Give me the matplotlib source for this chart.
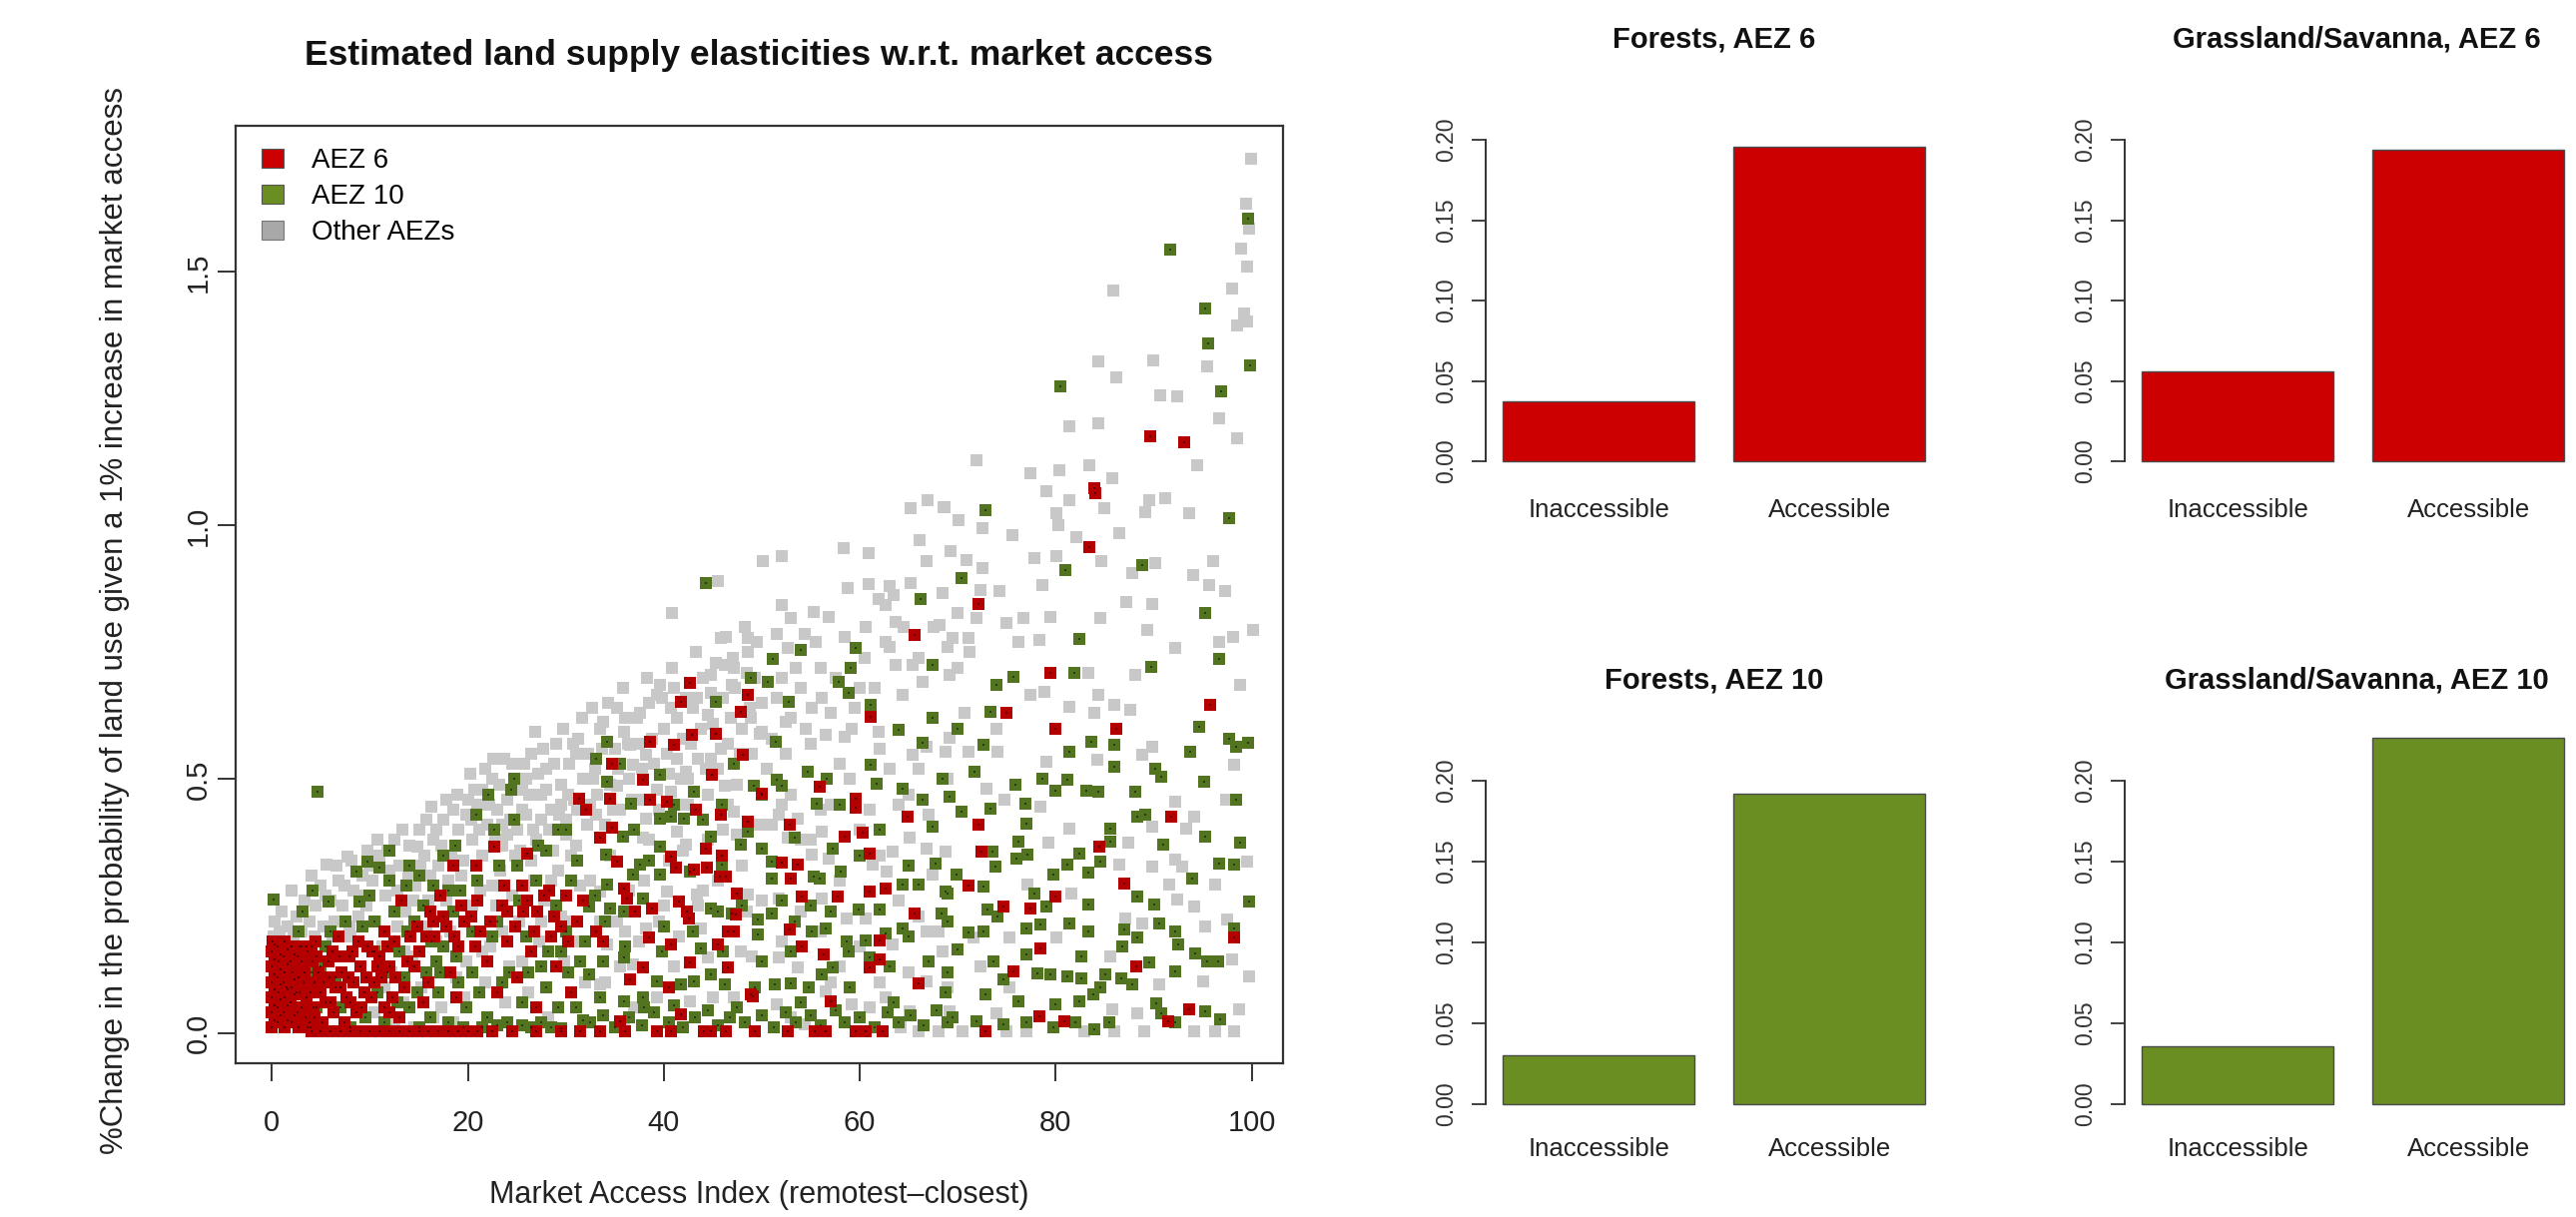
import matplotlib
matplotlib.use("Agg")
import matplotlib.pyplot as plt
from matplotlib.patches import Patch

plt.rcParams['font.family'] = ['Liberation Sans', 'DejaVu Sans']

# ---------------- data ----------------
title_main = "Estimated land supply elasticities w.r.t. market access"
xlabel_main = "Market Access Index (remotest\u2013closest)"
ylabel_main = "%Change in the probability of land use given a 1% increase in market access"
legend_labels = ["AEZ 6", "AEZ 10", "Other AEZs"]
x_ticks = [0, 20, 40, 60, 80, 100]
y_ticks = [0.0, 0.5, 1.0, 1.5]
y_ticklabels = ["0.0", "0.5", "1.0", "1.5"]

# Other AEZs (gray)
other_pts = [
    (0.2,0.19),(0.3,0.22),(0.8,0.20),(1.0,0.24),(1.6,0.21),(2.2,0.19),(2.5,0.23),(3.0,0.20),(3.3,0.26),(3.8,0.22),
    (4.3,0.19),(4.5,0.25),(5.0,0.29),(5.3,0.21),(5.6,0.331),(6.0,0.26),(6.4,0.22),(6.8,0.30),(7.2,0.25),(7.7,0.348),
    (7.9,0.21),(8.3,0.28),(8.8,0.23),(9.2,0.31),(9.8,0.36),(9.6,0.25),(6.2,0.19),(8.0,0.19),(2.0,0.28),(4.0,0.31),
    (10.3,0.30),(10.6,0.22),(11,0.35),(11.3,0.17),(11.6,0.27),(12,0.32),(12.2,0.12),(12.5,0.38),(12.8,0.21),(13,0.33),
    (13.4,0.06),(13.6,0.24),(14,0.37),(14.3,0.15),(14.6,0.29),(14.8,0.367),(15,0.40),(15.3,0.09),(15.6,0.35),(16,0.26),
    (16.3,0.445),(16.5,0.38),(16.8,0.18),(17,0.33),(17.3,0.05),(17.5,0.42),(18,0.30),(18.2,0.20),(18.5,0.44),(18.8,0.11),
    (19,0.40),(19.3,0.25),(19.5,0.34),(19.8,0.14),(20,0.46),(10.5,0.04),(12.5,0.02),(14.5,0.01),(16.5,0.03),(18.5,0.02),
    (11.5,0.09),(13.5,0.16),(15.8,0.21),(17.8,0.26),(19.6,0.07),
    (5.5,0.27),(6.6,0.33),(7.4,0.29),(8.1,0.34),(9.0,0.27),(10.0,0.33),(10.8,0.38),(11.8,0.36),(12.8,0.28),(13.3,0.40),
    (13.9,0.31),(14.4,0.26),(15.2,0.33),(15.8,0.42),(16.2,0.31),(16.8,0.40),(17.3,0.37),(17.8,0.46),(18.3,0.35),(18.9,0.47),
    (19.3,0.31),(19.8,0.43),
    (20.2,0.51),(20.5,0.38),(20.8,0.20),(21,0.45),(21.3,0.28),(21.5,0.35),(21.8,0.10),(22,0.41),(22.3,0.17),(22.5,0.50),
    (22.6,0.54),(22.9,0.25),(23,0.44),(23.3,0.32),(23.5,0.37),(23.8,0.06),(24,0.46),(24.2,0.13),(24.5,0.53),(24.8,0.35),
    (25,0.40),(25.2,0.22),(25.5,0.48),(25.8,0.29),(26,0.43),(26.2,0.08),(26.5,0.55),(26.8,0.30),(26.9,0.593),(27,0.38),
    (27.3,0.18),(27.5,0.47),(27.8,0.26),(28,0.52),(28.2,0.03),(28.5,0.44),(28.7,0.36),(29,0.57),(29.2,0.32),(29.5,0.49),
    (29.8,0.14),(30,0.42),(30.3,0.53),(30.5,0.22),(30.8,0.46),(31,0.37),(31.3,0.58),(31.5,0.29),(31.8,0.50),(32,0.10),
    (32.2,0.41),(21.5,0.48),(23.5,0.41),(25.5,0.44),(27.5,0.42),(29.5,0.45),(31,0.55),(28,0.48),(30,0.39),(26,0.50),(24,0.39),
    (20.3,0.42),(20.7,0.48),(21.2,0.40),(21.8,0.52),(22.2,0.45),(22.8,0.38),(23.2,0.49),(23.7,0.54),(24.3,0.42),(24.8,0.49),
    (25.3,0.36),(25.8,0.53),(26.3,0.47),(26.7,0.40),(27.2,0.51),(27.7,0.56),(28.3,0.40),(28.8,0.53),(29.3,0.43),(29.7,0.60),
    (30.2,0.47),(30.7,0.57),(31.2,0.44),(31.7,0.62),(32.3,0.55),(32.7,0.64),(33.2,0.47),(33.7,0.56),(34.3,0.65),(34.8,0.44),
    (35.3,0.52),(35.8,0.68),(36.3,0.57),(36.8,0.46),(37.3,0.62),(37.8,0.52),(38.3,0.70),(38.8,0.58),(39.3,0.48),(39.8,0.66),
    (40.3,0.55),(40.8,0.72),(41.3,0.62),(41.8,0.50),(42.3,0.66),(42.8,0.57),(43.3,0.75),(43.8,0.60),(44.3,0.52),(44.8,0.67),
    (45.3,0.73),(45.8,0.56),(46.3,0.78),(46.8,0.62),(47.3,0.68),(47.8,0.55),(48.3,0.80),(48.8,0.64),(49.3,0.70),(49.8,0.59),
    (20.5,0.25),(21.5,0.16),(22.5,0.29),(23.5,0.20),(24.5,0.27),(25.5,0.14),(26.5,0.34),(27.5,0.22),(28.5,0.30),(29.5,0.23),
    (30.5,0.35),(31.5,0.18),(32.5,0.30),(33.5,0.22),(34.5,0.35),(35.5,0.13),(36.5,0.28),(37.5,0.18),(38.5,0.38),(39.5,0.22),
    (40.5,0.34),(41.5,0.19),(42.5,0.45),(43.5,0.25),(44.5,0.38),(45.5,0.30),(46.5,0.45),(47.5,0.39),(48.5,0.24),(49.5,0.41),
    (40.8,0.827),(52.0,0.843),(53,0.817),(55.3,0.83),(56.8,0.82),(60.6,0.80),(62.6,0.843),(63.7,0.81),(68.1,0.804),(61.9,0.856),
    (45.8,0.778),(48.6,0.778),(51.5,0.787),(54.4,0.787),(48.6,0.751),(52.7,0.758),(46.2,0.725),(47.2,0.719),(44.8,0.705),(39.6,0.686),
    (39.3,0.666),(37.6,0.63),(35.2,0.64),(33.8,0.613),(40.7,0.64),(43.4,0.66),(46.9,0.686),(44.5,0.627),(48.9,0.62),(50,0.594),
    (52.4,0.614),(55.1,0.64),(56.1,0.66),(56.5,0.587),(59.2,0.60),(58.5,0.584),(64.4,0.666),(65.4,0.725),(66.4,0.692),(62.6,0.771),
    (63.7,0.725),(61.9,0.594),(65.4,0.548),(66.8,0.564),(68.8,0.554),(35.9,0.594),(36.6,0.568),(32.8,0.501),(35.2,0.488),(36.9,0.528),
    (38.2,0.548),(41.3,0.541),(42.3,0.515),(44.8,0.541),(46.2,0.488),(40.7,0.475),(33.1,0.43),(38.2,0.423),(37.9,0.384),(41.3,0.397),
    (42.3,0.371),(47.2,0.436),(51.7,0.43),(53.7,0.423),(52.7,0.384),(56.1,0.397),(50.3,0.41),(56.8,0.344),(55.1,0.351),(61.3,0.331),
    (62.7,0.318),(66.8,0.364),(67.4,0.311),(63.4,0.357),(65.1,0.384),(68.8,0.357),(33.5,0.279),(35.2,0.22),(40.3,0.279),(38.2,0.206),
    (43.4,0.272),(43.8,0.206),(48.6,0.272),(51.7,0.265),(56.1,0.265),(58.7,0.226),(60.6,0.226),(63.4,0.174),(66.8,0.20),(68.5,0.161),
    (51.7,0.148),(53.7,0.128),(47.9,0.161),(44.5,0.148),(34.2,0.174),(36.9,0.135),(33.5,0.095),(39.3,0.069),(42.7,0.062),(47.2,0.069),
    (51.5,0.056),(56.5,0.082),(59.2,0.056),(62.6,0.069),(65.1,0.043),(66.8,0.102),(69.2,0.043),(35.9,0.016),(54.4,0.016),(64.2,0.01),
    (32.5,0.45),(33,0.52),(33.5,0.60),(34,0.41),(34.5,0.49),(35,0.56),(35.5,0.44),(36,0.62),(36.5,0.50),(37,0.40),
    (37.5,0.57),(38,0.46),(38.5,0.65),(39,0.53),(39.5,0.44),(40,0.60),(40.5,0.51),(41,0.68),(41.5,0.45),(42,0.58),
    (42.5,0.50),(43,0.64),(43.5,0.54),(44,0.70),(44.5,0.47),(45,0.61),(45.5,0.52),(46,0.66),(46.5,0.57),(47,0.74),
    (47.5,0.49),(48,0.60),(48.5,0.71),(49,0.55),(49.5,0.77),(50,0.65),(51,0.58),(52,0.70),(53,0.62),(54,0.68),
    (55,0.57),(56,0.72),(57,0.63),(58,0.53),(60,0.68),(62,0.56),(38,0.30),(40,0.25),(42,0.36),(36,0.20),
    (44,0.28),(46,0.40),(48,0.33),(50,0.26),(52,0.45),(54,0.38),(56,0.44),(58,0.30),(60,0.40),(62,0.35),
    (64,0.45),(66,0.52),(34,0.10),(37,0.05),(41,0.13),(45,0.07),(49,0.15),(53,0.03),(57,0.10),(61,0.05),(65,0.12),(69,0.09),
    (50.5,0.52),(51.5,0.66),(52.5,0.55),(53.5,0.72),(54.5,0.60),(55.5,0.77),(57.5,0.70),(58.5,0.78),(59.5,0.64),(60.5,0.74),
    (61.5,0.68),(63,0.76),(64.5,0.80),(66,0.74),(67.5,0.80),(69,0.76),(51,0.41),(53,0.47),(55,0.38),(57,0.45),
    (59,0.50),(61,0.44),(63,0.52),(65,0.47),(67,0.43),(69,0.50),(52,0.18),(54,0.24),(56,0.20),(58,0.13),
    (60,0.17),(62,0.10),(64,0.26),(66,0.23),(68,0.20),
    (66.9,1.05),(65.2,1.034),(68.6,1.037),(66.1,0.971),(58.4,0.955),(60.9,0.945),(66.8,0.929),(50.1,0.929),(52,0.939),(45.5,0.89),
    (58.8,0.877),(60.9,0.884),(63,0.88),(65.2,0.887),(63.5,0.864),(68.5,0.867),
    (70,0.827),(71.9,0.817),(75,0.807),(76.7,0.817),(79.5,0.82),(84.6,0.817),(87.2,0.85),(89.3,0.794),(89.8,0.846),(92.2,0.758),
    (96.7,0.771),(98.1,0.781),(100.1,0.794),(69.2,0.705),(69.5,0.778),(71.1,0.778),(71.2,0.751),(70,0.719),(76.2,0.771),(78.3,0.774),
    (77.4,0.666),(78.8,0.672),(83.3,0.709),(88.1,0.705),(98.8,0.686),(84.3,0.666),(81.4,0.643),(86,0.646),(87.6,0.637),(83.9,0.63),
    (70.7,0.63),(74,0.60),(69.2,0.581),(71.1,0.554),(74.1,0.554),(79,0.535),(84.2,0.538),(88.8,0.548),(89.8,0.564),(98.2,0.528),
    (72.9,0.482),(74.8,0.459),(78.4,0.446),(92.2,0.456),(94.1,0.426),(97.4,0.459),(89.8,0.406),(93.3,0.403),(81.4,0.403),(79.3,0.374),
    (87.4,0.374),(92.2,0.341),(92.9,0.328),(99.5,0.338),(96.3,0.292),(91.6,0.292),(89.8,0.328),(86.5,0.331),(77.1,0.292),(81.6,0.275),
    (92.4,0.262),(94.1,0.249),(87.1,0.226),(88.8,0.216),(97.5,0.223),(95.3,0.21),(71.6,0.187),(75.3,0.187),(80.1,0.187),(85.6,0.151),
    (98,0.144),(99.7,0.111),(95,0.102),(90.6,0.095),(72.3,0.131),(75.3,0.089),(85.8,0.046),(88.3,0.039),(98.7,0.046),(74,0.039),
    (66,0.003),(68,0.003),(70.5,0.003),(75,0.003),(77,0.003),(82.9,0.003),(86,0.003),(89,0.003),(94.1,0.003),(96.3,0.003),(98.2,0.003),
    (99.9,1.723),(99.4,1.634),(99.7,1.585),(98.9,1.546),(99.5,1.51),(98,1.467),(85.9,1.464),(99.2,1.418),(98.5,1.395),(99.5,1.402),
    (84.3,1.323),(86.2,1.293),(90,1.326),(95.5,1.313),(90.7,1.257),(92.4,1.254),(96.7,1.211),(98.5,1.172),(81.4,1.195),(84.3,1.201),
    (94.4,1.119),(71.9,1.129),(77.4,1.103),(80.4,1.109),(83.4,1.119),(85.8,1.093),(79,1.067),(81.4,1.05),(85,1.034),(89.5,1.05),
    (91.2,1.054),(89.1,1.027),(93.6,1.024),(80.1,1.024),(80.3,1.0),(82.1,0.978),(86.5,0.985),(68.7,1.037),(70.1,1.01),(72.5,0.995),
    (75.6,0.982),(69.3,0.949),(70.9,0.932),(72.5,0.916),(77.8,0.936),(80.1,0.939),(84.7,0.929),(87.8,0.906),(90.2,0.926),(94,0.903),
    (96.1,0.929),(95.7,0.883),(97.3,0.87),(78.6,0.883),(74.3,0.87),(72.3,0.873),
]

# AEZ 10 (green)
aez10_pts = [
    (0.2,0.262),(3.1,0.24),(4.1,0.28),(4.7,0.476),(2.7,0.20),(3.5,0.17),(4.0,0.12),(2.5,0.08),(4.6,0.05),(3.8,0.02),
    (5.8,0.258),(8.9,0.258),(8.6,0.318),(9.8,0.338),(6.0,0.20),(7.5,0.22),(5.0,0.13),(7.0,0.05),(8.0,0.01),(9.5,0.03),
    (6.5,0.11),(9.2,0.21),(1.5,0.09),(5.5,0.17),
    (11,0.325),(12,0.36),(12,0.30),(13.7,0.29),(15.1,0.31),(16.5,0.29),(18.7,0.37),(10.5,0.22),(11.5,0.02),(12.5,0.24),
    (13.0,0.16),(14.0,0.05),(14.5,0.22),(15.0,0.01),(15.8,0.12),(16.2,0.03),(17.0,0.08),(17.5,0.17),(18.0,0.02),(18.5,0.24),
    (19.0,0.10),(19.5,0.01),(10.8,0.08),(13.5,0.11),(16.8,0.14),(19.2,0.28),(20.9,0.43),(22.1,0.47),(24.7,0.50),(24.4,0.48),
    (24.7,0.42),(22.7,0.40),(29.2,0.40),(30.0,0.40),(21,0.30),(23,0.22),(25,0.33),(26,0.19),(27,0.30),(28,0.36),
    (29,0.25),(20.5,0.12),(22,0.03),(23.5,0.10),(25.5,0.06),(26.5,0.01),(28,0.09),(29.5,0.16),(21.5,0.01),(24,0.02),
    (27.5,0.13),(30.5,0.30),(28.5,0.01),(31,0.05),(30,0.20),(31.5,0.14),(23,0.015),(25.5,0.015),(27.5,0.02),(29.5,0.008),
    (31.8,0.025),(17.5,0.35),(14,0.33),(10,0.27),
    (10.5,0.16),(11.8,0.12),(12.8,0.06),(13.8,0.20),(14.8,0.08),(15.5,0.25),(16.3,0.18),(17.2,0.12),(18.0,0.28),(18.8,0.15),
    (19.8,0.05),(20.5,0.20),(21.2,0.08),(22.5,0.19),(23.2,0.33),(24.2,0.12),(25.2,0.26),(26.2,0.12),(27.2,0.37),(28.2,0.16),
    (29.2,0.05),(30.2,0.12),(31.2,0.34),(32,0.18),(33,0.27),(34,0.22),(36,0.17),(37,0.40),(38.5,0.34),(40,0.21),
    (41,0.45),(43,0.20),(44,0.42),(46,0.16),(48,0.25),(50,0.14),(52,0.26),(53,0.16),(55,0.25),(57,0.24),
    (59,0.09),(60,0.35),(62,0.40),(63,0.13),(65,0.33),(67,0.14),(69,0.12),
    (34.2,0.574),(33.1,0.541),(35.5,0.53),(34.2,0.495),(36.7,0.452),(39.6,0.508),(39.6,0.423),(40.7,0.427),(42.1,0.423),(43.1,0.475),
    (45.9,0.449),(45.3,0.653),(48.9,0.699),(50.6,0.692),(51.1,0.738),(54,0.755),(52.8,0.653),(51.4,0.574),(47.2,0.53),(49.2,0.488),
    (50,0.469),(51.5,0.498),(52,0.488),(54.7,0.515),(56.6,0.501),(55.6,0.452),(58,0.449),(59.6,0.758),(59.1,0.719),(57.9,0.692),
    (58.9,0.67),(61.1,0.646),(64,0.597),(67.4,0.725),(67.4,0.62),(66.4,0.571),(61.1,0.528),(61.7,0.492),(64.4,0.482),(66.4,0.459),
    (67.4,0.406),(68.5,0.501),(66.2,0.856),(44.3,0.886),
    (35.8,0.387),(34.1,0.351),(37.6,0.331),(39.6,0.367),(36.9,0.311),(34.2,0.292),(32.4,0.249),(34.5,0.246),(35.9,0.239),(37.9,0.265),
    (39.6,0.311),(42.7,0.318),(44.8,0.387),(45.9,0.331),(47.9,0.371),(48.6,0.397),(50,0.364),(51,0.338),(51,0.305),(53.4,0.384),
    (55.3,0.308),(55.9,0.305),(57.2,0.364),(58.1,0.318),(59.9,0.243),(62,0.243),(64.4,0.292),(66,0.292),(67.7,0.334),(68.8,0.279),
    (68.3,0.236),(64.4,0.206),(65,0.19),(62.6,0.196),(60.6,0.183),(58.7,0.18),(58.9,0.161),(61,0.148),(57.2,0.128),(56.1,0.115),
    (54.8,0.089),(53,0.098),(51.3,0.095),(49.3,0.089),(46.2,0.095),(44.8,0.115),(43.1,0.102),(41.8,0.095),(39.3,0.102),(37.9,0.069),
    (35.9,0.062),(33.5,0.069),(32.4,0.115),(33.8,0.141),(35.9,0.148),(39.8,0.161),(43.8,0.167),(44.8,0.246),(45.5,0.239),(46.9,0.236),
    (49.6,0.223),(51,0.236),(53.4,0.22),(55.1,0.20),(56.5,0.206),(49.6,0.193),
    (32.5,0.02),(33.8,0.035),(35,0.01),(36.5,0.03),(37.8,0.015),(39,0.04),(40.5,0.02),(42,0.01),(43.2,0.03),(44.5,0.045),
    (45.5,0.015),(46.7,0.03),(47.5,0.05),(48.3,0.02),(50,0.035),(51.2,0.01),(52.5,0.04),(53.5,0.02),(55,0.035),(56,0.015),
    (57.5,0.045),(58.5,0.02),(60,0.03),(61.5,0.01),(62.8,0.04),(64,0.02),(65.2,0.035),(66.5,0.015),(67.8,0.045),(69,0.02),
    (38,0.05),(41,0.055),(54,0.06),(63.5,0.06),
    (95.3,0.827),(82.4,0.777),(96.7,0.738),(89.7,0.722),(75.7,0.702),(81.9,0.709),(74,0.686),(73.3,0.633),(70,0.60),(72.6,0.568),
    (71.7,0.515),(69.2,0.465),(70.4,0.436),(73.3,0.442),(75.9,0.49),(76.9,0.452),(78.6,0.501),(80,0.478),(81.2,0.498),(81.4,0.554),
    (83.6,0.574),(86,0.568),(86,0.524),(83.1,0.478),(84.3,0.475),(88.1,0.475),(90.2,0.521),(90.8,0.505),(93.7,0.554),(94.6,0.603),
    (95.1,0.495),(97.7,0.58),(98.4,0.564),(99.6,0.571),(98.4,0.459),(88.3,0.426),(89.1,0.43),(77,0.413),(76.2,0.377),(85.6,0.403),
    (85.6,0.377),(91,0.371),(95.3,0.387),(98.8,0.374),(73.5,0.357),(73.8,0.328),(76.0,0.344),(77.1,0.351),(82.4,0.354),(81.2,0.331),
    (79.8,0.311),(83.3,0.315),(84.6,0.338),(96.7,0.334),(98.2,0.331),(93.9,0.305),(69.9,0.311),(72.6,0.289),(69,0.275),(73,0.243),
    (74.1,0.23),(77.8,0.275),(79.0,0.249),(83.3,0.253),(88.3,0.269),(90.1,0.253),(99.7,0.259),(69,0.22),(71.1,0.197),(72.6,0.20),
    (77,0.206),(78.4,0.213),(81.4,0.216),(83.3,0.20),(87,0.203),(88.3,0.187),(90.6,0.216),(92.2,0.20),(98.2,0.206),(70,0.164),
    (73.6,0.141),(77,0.154),(82.6,0.151),(86.8,0.171),(92.5,0.174),(94.2,0.157),(95.5,0.141),(96.6,0.141),(89.5,0.138),(92.2,0.121),
    (74.7,0.105),(78.1,0.118),(79.5,0.115),(81.2,0.111),(82.6,0.108),(85.1,0.115),(86.7,0.108),(87.8,0.095),(84.6,0.089),(68.8,0.079),
    (72.8,0.075),(76.2,0.062),(80,0.056),(82.4,0.062),(83.8,0.075),(90.3,0.059),(95.3,0.043),(96.8,0.026),(69.5,0.03),(71.9,0.023),
    (74.7,0.016),(77,0.02),(79.8,0.01),(82,0.02),(83.9,0.007),(85.5,0.02),(92.2,0.02),(90.8,0.039),
    (99.6,1.605),(91.7,1.543),(95.3,1.428),(95.6,1.358),(99.8,1.316),(96.9,1.264),(80.5,1.274),(72.8,1.03),(97.7,1.014),(88.8,0.922),
    (81.0,0.912),(70.4,0.896),
]

# AEZ 6 (red)
aez6_pts = [
    (0.0,0.01),(0.0,0.04),(0.0,0.07),(0.0,0.10),(0.0,0.13),(0.0,0.16),(0.1,0.18),
    (0.6,0.02),(0.6,0.05),(0.7,0.08),(0.6,0.11),(0.7,0.14),(0.6,0.17),
    (1.3,0.01),(1.2,0.04),(1.3,0.07),(1.2,0.10),(1.3,0.12),(1.2,0.15),(1.3,0.18),
    (2.0,0.02),(1.9,0.06),(2.0,0.09),(2.1,0.12),(1.9,0.14),(2.0,0.17),
    (2.7,0.01),(2.6,0.04),(2.8,0.08),(2.7,0.11),(2.6,0.15),(2.8,0.17),
    (0.3,0.025),(0.3,0.055),(0.3,0.085),(0.3,0.115),(0.3,0.145),(0.3,0.175),(0.9,0.035),(0.9,0.065),(0.9,0.095),(0.9,0.125),
    (0.9,0.155),(1.6,0.025),(1.6,0.055),(1.6,0.085),(1.6,0.135),(1.6,0.165),(2.3,0.035),(2.3,0.075),(2.3,0.105),(2.3,0.155),
    (3.0,0.14),(3.0,0.17),(3.6,0.01),(4.4,0.03),(4.0,0.17),
    (3.4,0.03),(3.5,0.07),(3.3,0.12),(3.6,0.16),(4.2,0.05),(4.3,0.10),(4.1,0.14),(4.5,0.18),
    (5.2,0.02),(5.5,0.06),(5.3,0.10),(5.8,0.14),(6.3,0.04),(6.5,0.09),(6.2,0.16),(7.1,0.12),(7.4,0.02),(7.6,0.07),
    (7.9,0.15),(8.3,0.10),(8.6,0.04),(9.0,0.13),(9.4,0.08),(9.8,0.17),(8.8,0.18),(6.8,0.19),(4.8,0.12),(3.9,0.01),
    (3.0,0.05),(3.2,0.10),(3.9,0.08),(4.6,0.15),(5.0,0.08),(5.9,0.11),(6.0,0.06),(6.9,0.15),(7.0,0.09),(7.8,0.11),
    (8.2,0.16),(8.0,0.06),(9.1,0.05),(9.7,0.11),(10.2,0.07),(10.3,0.16),(11.2,0.11),(12.0,0.04),
    (4,0.003),(5,0.003),(6,0.003),(7,0.003),(8,0.003),(9,0.003),(10,0.003),(11,0.003),(12,0.003),(13,0.003),
    (14,0.003),(15,0.003),(16,0.003),(17,0.003),(18,0.003),(19,0.003),(20,0.003),(21,0.003),(22.5,0.003),(24.5,0.003),
    (27,0.003),(29.5,0.003),(31.5,0.003),(33.5,0.003),(36,0.003),(39.3,0.003),(40.7,0.003),(44.1,0.003),(44.8,0.003),(46.3,0.003),
    (49.3,0.003),(52.7,0.003),(55.4,0.003),(56.5,0.003),(59.6,0.003),(60.6,0.003),(62.3,0.003),(72.8,0.003),
    (11.0,0.15),(10.5,0.10),(11.5,0.05),(12.0,0.13),(12.5,0.18),(13.2,0.26),(13.5,0.09),(14.1,0.19),(14.5,0.13),(15.1,0.16),
    (15.5,0.06),(16.5,0.22),(16.6,0.19),(17.2,0.27),(17.8,0.21),(18.5,0.33),(18.2,0.12),(19.0,0.17),(19.6,0.22),(11.5,0.20),
    (13,0.03),(16,0.10),(18.8,0.07),(12.3,0.07),(20.9,0.33),(22.7,0.367),(23.7,0.29),(21.3,0.20),(22,0.14),(23,0.08),
    (24,0.18),(25.7,0.24),(26.1,0.354),(26.1,0.26),(27.1,0.24),(28.3,0.28),(28.8,0.23),(28.5,0.19),(25,0.11),(27,0.05),
    (29,0.13),(24,0.24),(26.5,0.16),(21,0.26),(31.4,0.462),(32.1,0.44),(31.8,0.26),(31.2,0.22),(30.2,0.18),(30.5,0.08),
    (10.8,0.13),(11.8,0.17),(12.6,0.11),(13.8,0.14),(14.8,0.21),(15.8,0.19),(16.2,0.24),(17.5,0.23),(18.6,0.19),(19.3,0.25),
    (20.3,0.23),(20.8,0.17),(22.3,0.22),(23.5,0.25),(24.8,0.21),(25.5,0.29),(26.8,0.20),(27.8,0.27),(29.5,0.21),(30,0.27),
    (42.7,0.69),(41.8,0.653),(38.6,0.574),(41,0.567),(42.9,0.587),(45.3,0.59),(48.6,0.666),(47.9,0.633),(48.1,0.548),(44.9,0.508),
    (37.9,0.499),(34.5,0.462),(34.7,0.53),(38.6,0.459),(40.3,0.456),(43.3,0.44),(45.8,0.43),(48.6,0.417),(33.5,0.384),(34.7,0.404),
    (35.2,0.338),(35.9,0.285),(36.2,0.265),(37.1,0.239),(38.8,0.246),(40.7,0.348),(41.2,0.325),(43.1,0.321),(44.3,0.364),(44.4,0.325),
    (45.9,0.35),(45.7,0.308),(46.3,0.308),(41.5,0.259),(42.4,0.239),(42.6,0.226),(46.5,0.20),(47.2,0.20),(47.4,0.233),(47.5,0.275),
    (45.5,0.174),(40.7,0.174),(38.5,0.187),(37.9,0.128),(36.6,0.105),(40.5,0.089),(42.7,0.138),(46.5,0.128),(49.1,0.072),(41.7,0.036),
    (35.5,0.023),(33.1,0.20),(33.8,0.18),(50.0,0.472),(52.9,0.41),(52.0,0.335),(53.7,0.331),(53,0.305),(54.1,0.269),(55.9,0.486),
    (57.8,0.269),(58.5,0.387),(59.6,0.462),(59.6,0.443),(60.3,0.394),(61,0.354),(61.1,0.623),(65.6,0.784),(64.9,0.426),(65.6,0.236),
    (62.6,0.285),(61,0.279),(61,0.128),(62,0.144),(62,0.183),(52.9,0.203),(54.1,0.171),(56.3,0.154),(57,0.062),(48.9,0.075),(66,0.098),
    (72.1,0.846),(79.5,0.709),(75,0.63),(80,0.60),(86.2,0.60),(95.8,0.646),(72.1,0.41),(72.4,0.357),(71.1,0.29),(74.7,0.249),
    (77.4,0.246),(80,0.269),(84.5,0.367),(87,0.295),(91.8,0.426),(78.4,0.167),(75.7,0.121),(88.2,0.131),(98.2,0.187),(93.6,0.046),
    (91.5,0.023),(78.3,0.033),(80.9,0.023),(89.6,1.175),(93.1,1.165),(83.9,1.073),(84.0,1.063),(83.4,0.958),
]

bar_categories = ["Inaccessible", "Accessible"]
forests_aez6 = [0.0375, 0.196]
grass_aez6 = [0.056, 0.194]
forests_aez10 = [0.030, 0.192]
grass_aez10 = [0.036, 0.226]
bar_titles = ["Forests, AEZ 6", "Grassland/Savanna, AEZ 6", "Forests, AEZ 10", "Grassland/Savanna, AEZ 10"]
bar_ticks = [0.0, 0.05, 0.10, 0.15, 0.20]
bar_ticklabels = ["0.00", "0.05", "0.10", "0.15", "0.20"]

# ---------------- styling ----------------
W, H = 2580, 1219
RED_PT, GREEN_PT, GRAY_PT = "#B40000", "#52731F", "#C8C8C8"
RED_BAR, GREEN_BAR = "#CC0000", "#6B8E23"
AXC = "#333333"

fig = plt.figure(figsize=(W / 100, H / 100), dpi=100)

def px_axes(x0, y0, x1, y1):
    return fig.add_axes([x0 / W, 1 - y1 / H, (x1 - x0) / W, (y1 - y0) / H])

# ---------------- scatter ----------------
ax = px_axes(236, 126, 1285, 1065)
for pts, col in [(other_pts, GRAY_PT), (aez10_pts, GREEN_PT), (aez6_pts, RED_PT)]:
    xs = [p[0] for p in pts]
    ys = [p[1] for p in pts]
    ax.scatter(xs, ys, s=68, marker='s', c=col, linewidths=0, zorder=2)
    if col != GRAY_PT:
        ax.scatter(xs, ys, s=3, marker='s', c='black', linewidths=0, alpha=0.5, zorder=3)

ax.set_xlim(-3.7, 103.2)
ax.set_ylim(-0.06, 1.788)
ax.set_xticks(x_ticks)
ax.set_xticklabels([str(t) for t in x_ticks])
ax.set_yticks(y_ticks)
ax.set_yticklabels(y_ticklabels, rotation=90, va='center')
ax.tick_params(axis='both', direction='out', length=13, width=1.4, colors=AXC, labelcolor='#222222', labelsize=21)
ax.tick_params(axis='x', pad=20)
ax.tick_params(axis='y', pad=4)
for s in ax.spines.values():
    s.set_color(AXC)
    s.set_linewidth(1.6)

fig.text(760 / W, 1 - 56 / H, title_main, ha='center', va='center', fontsize=25.5, fontweight='bold', color='#111111')
fig.text(760 / W, 1 - 1197 / H, xlabel_main, ha='center', va='center', fontsize=22, color='#222222')
fig.text(115 / W, 1 - 622 / H, ylabel_main, ha='center', va='center', rotation=90, fontsize=22.5, color='#222222')

handles = [Patch(facecolor=RED_BAR, edgecolor='#555555', linewidth=0.8),
           Patch(facecolor=GREEN_BAR, edgecolor='#555555', linewidth=0.8),
           Patch(facecolor='#A8A8A8', edgecolor='#777777', linewidth=0.8)]
ax.legend(handles=handles, labels=legend_labels, loc='upper left',
          bbox_to_anchor=(262 / W, 1 - 148 / H), bbox_transform=fig.transFigure,
          frameon=False, fontsize=20, handlelength=0.8, handleheight=0.68,
          handletextpad=1.0, labelspacing=0.36, borderpad=0, borderaxespad=0)

# ---------------- bar panels ----------------
panels = [
    (forests_aez6, RED_BAR, bar_titles[0], (1488, 77, 1946, 477), 40, 16),
    (grass_aez6, RED_BAR, bar_titles[1], (2128, 77, 2584, 477), 40, 16),
    (forests_aez10, GREEN_BAR, bar_titles[2], (1488, 718, 1946, 1121), 682, 13),
    (grass_aez10, GREEN_BAR, bar_titles[3], (2128, 718, 2584, 1121), 682, 13),
]
bar_pos = [0.7, 1.9]
for vals, col, ttl, (x0, y0, x1, y1), ty, cpad in panels:
    bax = px_axes(x0, y0, x1, y1)
    bax.bar(bar_pos, vals, width=1.0, color=col, edgecolor='#4a4a4a', linewidth=1.0)
    bax.set_xlim(0.112, 0.112 + (x1 - x0) / 192.5)
    bax.set_ylim(-0.0092, 0.2392)
    for side in ['top', 'right', 'bottom']:
        bax.spines[side].set_visible(False)
    bax.spines['left'].set_bounds(0, 0.2)
    bax.spines['left'].set_color(AXC)
    bax.spines['left'].set_linewidth(1.4)
    bax.set_yticks(bar_ticks)
    bax.set_yticklabels(bar_ticklabels, rotation=90, va='center')
    bax.tick_params(axis='y', direction='out', length=10, width=1.3, colors=AXC, labelcolor='#333333', labelsize=16.5, pad=10)
    bax.set_xticks(bar_pos)
    bax.set_xticklabels(bar_categories)
    bax.tick_params(axis='x', length=0, labelsize=18.5, labelcolor='#222222', pad=cpad)
    bax.patch.set_visible(False)
    fig.text(((x0 + min(x1, 2580)) / 2 if x0 < 2000 else 2360) / W, 1 - ty / H, ttl,
             ha='center', va='center', fontsize=21, fontweight='bold', color='#111111')

fig.savefig("out.png", dpi=100, facecolor='white')
